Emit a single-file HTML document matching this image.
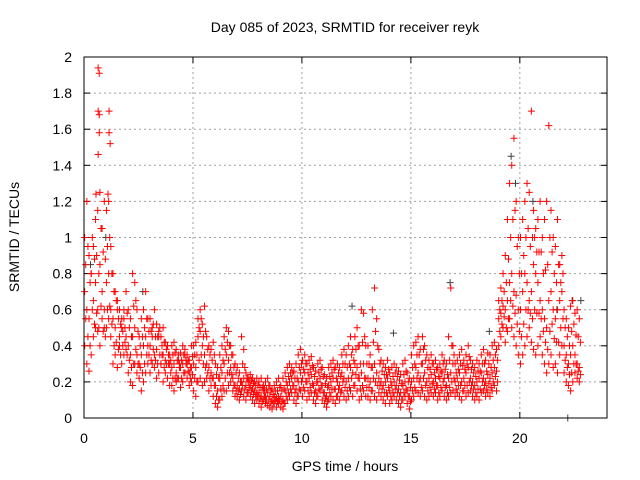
<!DOCTYPE html>
<html><head><meta charset="utf-8"><style>
body{margin:0;background:#fff}
svg{display:block;font-family:"Liberation Sans",sans-serif}
</style></head><body>
<svg id="chart" width="640" height="480" viewBox="0 0 640 480">
<rect x="0" y="0" width="640" height="480" fill="#fff"/>
<text x="345" y="32" font-size="14" text-anchor="middle">Day 085 of 2023, SRMTID for receiver reyk</text>
<text x="345" y="471" font-size="14" text-anchor="middle">GPS time / hours</text>
<text x="19" y="237" font-size="14" text-anchor="middle" transform="rotate(-90 19 237)">SRMTID / TECUs</text>
<g id="grid"></g><g id="ticks"></g><g id="gray"></g><g id="marks"></g>
<rect x="84" y="57" width="523" height="361" fill="none" stroke="#000" stroke-width="1"/>
</svg>
<script>
const xTicks=[0,5,10,15,20];
const yTicks=[0,0.2,0.4,0.6,0.8,1,1.2,1.4,1.6,1.8,2];
const yTickLabels=["0","0.2","0.4","0.6","0.8","1","1.2","1.4","1.6","1.8","2"];
const xTickLabels=["0","5","10","15","20"];
const startHour=0, stepHour=0.1;
// values in hundredths of TECU, one per 0.1 h
const seriesLow=[40,30,26,35,45,50,48,40,55,50, 50,55,45,30,35,28,40,30,35,38, 25,20,18,30,25,22,15,20,25,30, 25,30,28,22,25,30,20,25,22,18, 18,15,20,22,17,20,25,22,18,20, 15,12,20,22,18,20,22,15,18,12, 8,6,10,12,15,15,18,20,15,12, 12,10,15,12,10,14,12,10,8,10, 8,6,10,8,7,6,5,8,6,8, 6,5,8,10,12,14,10,8,12,15, 12,15,10,12,14,10,8,12,15,10, 8,6,10,12,10,8,12,10,15,12, 10,12,15,12,18,15,10,12,15,12, 12,10,15,12,10,14,12,10,8,12, 8,10,12,10,8,6,10,12,8,5, 10,12,15,14,12,15,12,10,12,14, 12,14,10,12,15,12,10,12,14,15, 12,14,12,10,15,12,14,15,12,10, 12,10,14,15,12,14,12,15,18,15, 40,45,50,42,48,55,50,45,40,35, 30,35,40,45,50,42,38,35,40,45, 35,30,25,30,35,28,30,25,35,40, 25,20,18,15,20,25,22,20];
const seriesMid=[70,60,55,80,65,75,60,85,70,60, 75,80,60,55,50,60,45,50,55,45, 40,35,45,50,35,30,35,40,45,40, 40,45,35,38,45,30,35,32,40,30, 28,30,25,32,28,30,35,30,25,28, 30,28,45,48,40,35,30,28,25,22, 18,15,22,25,30,35,32,28,22,18, 18,16,20,22,18,20,18,16,15,14, 14,12,15,12,14,12,10,12,11,12, 12,10,15,18,20,22,18,16,20,25, 22,25,20,22,24,18,15,20,22,18, 14,12,18,20,22,16,20,18,25,22, 20,22,28,25,30,28,22,25,30,22, 22,20,28,30,25,22,20,18,20,22, 15,18,20,18,16,14,18,20,15,12, 20,22,28,25,22,30,25,20,22,24, 20,22,18,22,25,22,18,22,25,30, 20,22,25,20,22,25,28,22,20,18, 20,22,25,22,20,24,22,25,28,26, 55,58,62,60,65,75,80,70,68,60, 60,70,80,75,65,70,85,80,75,65, 60,55,50,65,70,60,55,60,65,70, 40,35,30,35,40,35,30,28];
const seriesHigh=[100,120,90,80,95,110,115,125,105,120, 115,120,95,80,70,65,60,55,60,70, 60,55,80,75,60,45,55,60,70,55, 55,50,60,52,48,45,50,42,40,35, 40,42,38,35,36,40,38,35,32,40, 40,42,55,60,52,62,45,40,38,42, 30,28,35,40,45,50,48,40,35,30, 28,25,45,38,25,22,24,22,20,22, 20,22,18,20,22,18,16,18,20,22, 18,22,25,28,30,28,26,30,35,38, 32,35,30,32,34,28,26,30,32,28, 24,22,28,30,32,28,30,28,35,38, 35,40,45,38,45,50,40,60,58,40, 40,35,60,72,55,38,32,30,28,32, 25,28,30,28,26,24,30,32,25,22, 35,40,42,45,38,45,40,35,32,35, 30,32,28,30,35,32,30,45,72,40, 30,32,35,38,32,35,40,32,30,28, 32,30,35,38,32,36,35,40,42,38, 65,72,80,90,110,130,140,155,120,100, 100,110,120,130,125,170,115,105,110,120, 100,110,120,162,115,100,95,110,85,90, 60,55,50,62,65,58,60,55];
// second receiver-pass set, offset by half a step
const seriesLowMid=[55,45,40,60,52,58,50,62,48,45, 60,62,52,40,42,38,35,40,42,35, 32,28,30,38,30,28,25,30,35,35, 32,38,32,30,35,35,28,30,30,25, 22,22,22,28,22,25,30,26,22,24, 22,20,32,35,30,28,25,22,22,18, 12,10,16,18,22,25,25,24,18,15, 15,13,18,16,14,17,15,13,12,12, 11,9,12,10,10,9,8,10,9,10, 9,8,12,14,16,18,14,12,16,20, 17,20,15,17,19,14,12,16,18,14, 11,9,14,16,16,12,16,14,20,17, 15,17,22,18,24,22,16,18,22,17, 17,15,22,20,18,18,16,14,14,17, 12,14,16,14,12,10,14,16,12,9, 15,17,22,20,17,22,18,15,17,19, 16,18,14,17,20,17,14,17,20,22, 16,18,18,15,18,18,20,18,16,14, 16,16,20,18,16,19,17,20,23,20, 48,52,56,50,55,65,62,58,52,48, 45,52,60,60,58,55,60,58,58,55, 48,42,38,48,52,44,42,42,50,55, 32,28,24,25,30,30,26,24];
const seriesMidHigh=[85,95,75,100,88,90,80,105,92,88, 95,100,80,70,65,55,52,48,50,58, 50,45,62,65,48,40,45,50,55,48, 48,52,45,45,50,40,42,38,35,32, 35,36,32,30,32,35,32,32,28,34, 35,35,50,55,45,48,38,35,32,35, 24,22,28,32,38,42,40,35,28,25, 22,20,30,28,22,21,21,19,18,18, 17,17,16,16,18,15,13,15,15,17, 15,16,20,23,25,25,22,22,28,30, 27,30,25,27,29,23,20,25,27,23, 19,17,23,25,27,22,25,23,30,30, 28,30,35,32,38,40,30,42,45,30, 30,28,42,48,40,30,26,24,24,27, 20,23,25,23,21,19,24,26,20,17, 28,30,35,35,30,38,32,28,27,30, 25,27,23,26,30,27,24,32,40,35, 25,27,30,29,27,30,34,27,25,23, 26,26,30,30,26,30,28,32,35,32, 60,65,70,75,88,100,110,115,95,80, 80,90,100,105,95,100,100,92,92,92, 80,82,85,100,92,80,75,85,75,80, 50,45,40,48,52,46,45,42];
const outlierHours=[0.65,0.7,0.65,0.7,0.7,0.65,1.15,1.15,1.2,0.55,1.1];
const outlierValues=[1.94,1.91,1.70,1.68,1.58,1.46,1.70,1.58,1.52,1.24,1.24];
const grayHours=[0.3,1.0,2.7,12.3,14.2,16.8,18.6,19.6,19.8,20.6,21.7,22.4,22.8,22.2];
const grayValues=[0.85,1.0,0.7,0.62,0.47,0.75,0.48,1.45,1.3,1.2,0.6,0.65,0.65,0.0];

const X=h=>84+h*(523/24), Y=v=>418-v*(361/2);
const NS='http://www.w3.org/2000/svg';
function mk(t,a,p){const e=document.createElementNS(NS,t);for(const k in a)e.setAttribute(k,a[k]);p.appendChild(e);return e;}
const grid=document.getElementById('grid'),ticks=document.getElementById('ticks');
yTicks.forEach((v,i)=>{const y=Y(v);
 if(i>0&&i<yTicks.length-1){const l=mk('line',{x1:84,x2:607,y1:y,y2:y,stroke:'#a0a0a0','stroke-dasharray':'2,3'},grid);
 
 }
 mk('line',{x1:84,x2:90,y1:y,y2:y,stroke:'#000'},ticks);mk('line',{x1:601,x2:607,y1:y,y2:y,stroke:'#000'},ticks);
 const t=mk('text',{x:72,y:y+5,'font-size':14,'text-anchor':'end'},ticks);t.textContent=yTickLabels[i];
 
 });
xTicks.forEach((h,i)=>{const x=X(h);
 if(i>0){const l=mk('line',{x1:x,x2:x,y1:57,y2:418,stroke:'#a0a0a0','stroke-dasharray':'2,3'},grid);
 
 }
 mk('line',{x1:x,x2:x,y1:412,y2:418,stroke:'#000'},ticks);mk('line',{x1:x,x2:x,y1:57,y2:63,stroke:'#000'},ticks);
 const t=mk('text',{x:x,y:443,'font-size':14,'text-anchor':'middle'},ticks);t.textContent=xTickLabels[i];
 
 });
function cross(h,v,col,g){const x=X(h),y=Y(v);
 const p=mk('path',{d:`M${x-3.5},${y}h7M${x},${y-3.5}v7`,stroke:col,'stroke-width':1,fill:'none'},g);
 
 }
const gg=document.getElementById('gray'),mg=document.getElementById('marks');
grayHours.forEach((h,i)=>cross(h,grayValues[i],'#404040',gg));
[seriesLow,seriesMid,seriesHigh].forEach(s=>s.forEach((v,i)=>cross(startHour+i*stepHour+0.03,v/100,'#ff0000',mg)));
[seriesLowMid,seriesMidHigh].forEach(s=>s.forEach((v,i)=>cross(startHour+i*stepHour+0.08,v/100,'#ff0000',mg)));
outlierHours.forEach((h,i)=>cross(h,outlierValues[i],'#ff0000',mg));
</script>
</body></html>
